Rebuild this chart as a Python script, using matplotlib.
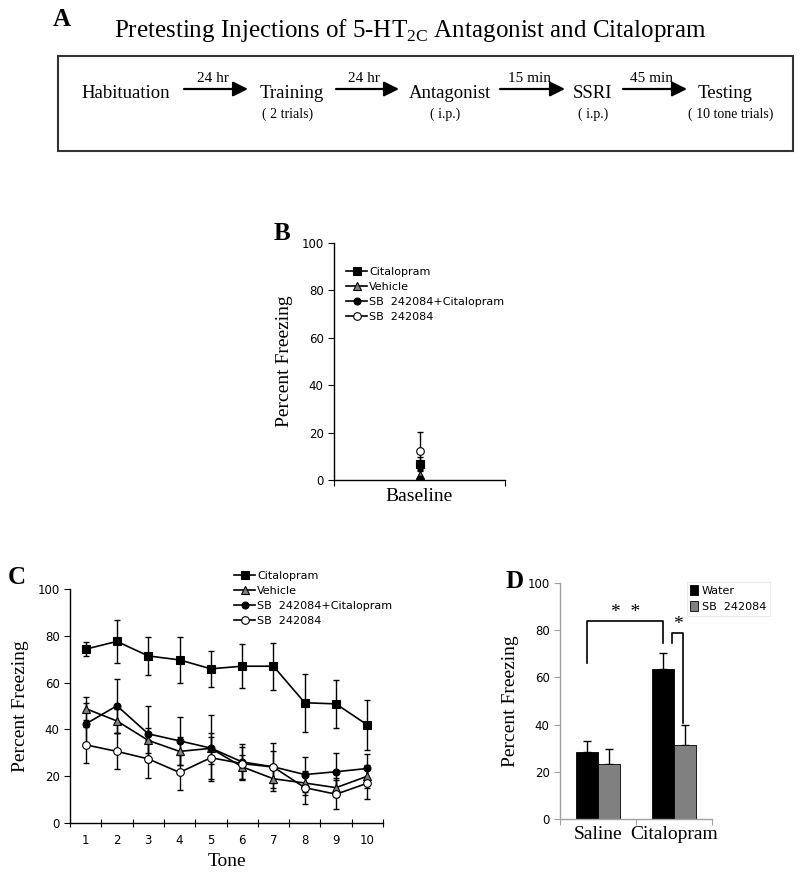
"""
Figure: pretesting injections of 5-HT2C antagonist and citalopram.
Panel A is the timeline, B baseline freezing, C freezing per tone, D mean freezing.
"""

import numpy as np
import matplotlib
matplotlib.use("Agg")
import matplotlib.pyplot as plt
from matplotlib.patches import Rectangle

plt.rcParams['font.family'] = ['DejaVu Sans']
plt.rcParams['mathtext.fontset'] = 'custom'
plt.rcParams['mathtext.rm'] = 'Liberation Serif'

SERIF = 'Liberation Serif'
W, H = 800, 876

# ---- data ----
stages = ["Habituation", "Training", "Antagonist", "SSRI", "Testing"]
stage_notes = ["", "( 2 trials)", "( i.p.)", "( i.p.)", "( 10 tone trials)"]
intervals = ["24 hr", "24 hr", "15 min", "45 min"]

groups = ["Citalopram", "Vehicle", "SB  242084+Citalopram", "SB  242084"]

baseline_mean = [6.8, 2.1, 0.3, 12.4]
baseline_err = [3.0, 2.0, 0.5, 7.7]

tones = np.arange(1, 11)
cit_mean = [74.3, 77.6, 71.4, 69.7, 65.9, 67.0, 67.0, 51.4, 50.9, 41.9]
cit_err = [3.0, 9.3, 8.3, 10.0, 7.7, 9.4, 10.0, 12.3, 10.4, 10.5]
veh_mean = [48.9, 43.6, 35.3, 30.6, 31.9, 24.0, 18.9, 17.1, 15.1, 20.0]
veh_err = [5.0, 5.0, 5.5, 6.0, 6.5, 5.0, 4.0, 5.0, 4.0, 5.0]
sbc_mean = [42.3, 50.1, 38.1, 35.1, 32.0, 26.1, 24.0, 20.7, 21.9, 23.3]
sbc_err = [9.0, 11.6, 12.0, 10.3, 14.0, 7.5, 10.4, 7.6, 7.9, 6.4]
sb_mean = [33.4, 30.6, 27.4, 21.6, 27.9, 25.4, 23.9, 15.1, 12.3, 17.0]
sb_err = [7.7, 7.7, 8.0, 7.3, 9.0, 7.0, 7.0, 6.8, 6.2, 6.6]

treatments = ["Saline", "Citalopram"]
water_mean = [28.5, 63.6]
water_err = [4.4, 6.6]
sb_bar_mean = [23.3, 31.2]
sb_bar_err = [6.2, 8.5]

GRAY = '#808080'
styles = [
    dict(marker='s', mfc='black', ms=5.5),
    dict(marker='^', mfc=GRAY, ms=5.5),
    dict(marker='o', mfc='black', ms=5),
    dict(marker='o', mfc='white', ms=5.5),
]


def px_axes(fig, x0, y0, x1, y1):
    """Add an axes from pixel box (top-left origin)."""
    return fig.add_axes([x0 / W, 1 - y1 / H, (x1 - x0) / W, (y1 - y0) / H])


def style_axis(ax, color='black'):
    for side in ['top', 'right']:
        ax.spines[side].set_visible(False)
    for side in ['left', 'bottom']:
        ax.spines[side].set_color(color)
        ax.spines[side].set_linewidth(1.0)
    ax.set_ylim(0, 100)
    ax.set_yticks(range(0, 101, 20))
    ax.tick_params(axis='y', direction='out', length=4, labelsize=8.5, color=color)
    ax.set_ylabel("Percent Freezing", fontfamily=SERIF, fontsize=14, labelpad=6)


fig = plt.figure(figsize=(8, 8.76), dpi=100)

# ---- panel A: timeline ----
ax_a = fig.add_axes([0, 1 - 160 / H, 1, 160 / H])
ax_a.set_xlim(0, W)
ax_a.set_ylim(160, 0)
ax_a.axis('off')
ax_a.text(410, 30, "Pretesting Injections of 5-HT$_{\\mathrm{2C}}$ Antagonist and Citalopram",
          fontfamily=SERIF, fontsize=18, ha='center', va='center')
ax_a.add_patch(Rectangle((58, 56), 735, 95, fill=False, lw=1.5, edgecolor='#333333'))

stage_x = [126, 292, 450, 593, 725]
note_x = [126, 288, 445, 593, 731]
arrow_x = [(184, 248), (336, 399), (500, 565), (623, 687)]
for name, note, sx, nx in zip(stages, stage_notes, stage_x, note_x):
    ax_a.text(sx, 93, name, fontfamily=SERIF, fontsize=13.5, ha='center', va='center')
    if note:
        ax_a.text(nx, 114, note, fontfamily=SERIF, fontsize=10, ha='center', va='center')
for label, (x0, x1) in zip(intervals, arrow_x):
    ax_a.annotate('', xy=(x1, 89), xytext=(x0, 89),
                  arrowprops=dict(arrowstyle='-|>,head_length=0.6,head_width=0.3',
                                  mutation_scale=15, lw=1.6, color='black',
                                  shrinkA=0, shrinkB=0))
    ax_a.text(x0 + 0.45 * (x1 - x0), 78, label, fontfamily=SERIF, fontsize=11,
              ha='center', va='center')

# ---- panel B: baseline ----
ax_b = px_axes(fig, 334, 243, 505, 480)
style_axis(ax_b)
ax_b.set_xlim(0.5, 1.5)
ax_b.set_xticks([0.5, 1.5])
ax_b.set_xticklabels([])
ax_b.set_xticks([1], minor=True)
ax_b.set_xticklabels(["Baseline"], minor=True, fontfamily=SERIF, fontsize=14)
ax_b.tick_params(axis='x', which='major', direction='out', length=4)
ax_b.tick_params(axis='x', which='minor', length=0, pad=6)
for name, m, e, st in zip(groups, baseline_mean, baseline_err, styles):
    ax_b.errorbar([1], [m], yerr=[e], fmt='none', ecolor='black', elinewidth=1,
                  capsize=2.5, zorder=2)
    ax_b.plot([1], [m], color='black', lw=1.2, mec='black', mew=0.8, label=name,
              zorder=3, **st)
ax_b.legend(loc='upper left', bbox_to_anchor=(346 / W, 1 - 267 / H),
            bbox_transform=fig.transFigure, frameon=False, fontsize=8,
            handlelength=1.9, handletextpad=0.2, labelspacing=0.45,
            borderpad=0, borderaxespad=0)

# ---- panel C: freezing per tone ----
ax_c = px_axes(fig, 70, 589, 383, 823)
style_axis(ax_c)
ax_c.set_xlim(0.5, 10.5)
ax_c.set_xticks(np.arange(0.5, 11, 1))
ax_c.set_xticklabels([])
ax_c.set_xticks(tones, minor=True)
ax_c.set_xticklabels([str(t) for t in tones], minor=True, fontsize=8.5)
ax_c.tick_params(axis='x', which='major', direction='inout', length=6)
ax_c.tick_params(axis='x', which='minor', length=0, pad=8)
ax_c.set_xlabel("Tone", fontfamily=SERIF, fontsize=14, labelpad=4)
series = [(cit_mean, cit_err), (veh_mean, veh_err), (sbc_mean, sbc_err), (sb_mean, sb_err)]
for name, (m, e), st in zip(groups, series, styles):
    ax_c.errorbar(tones, m, yerr=e, fmt='none', ecolor='black', elinewidth=1,
                  capsize=2.5, zorder=2)
    ax_c.plot(tones, m, color='black', lw=1.2, mec='black', mew=0.8, label=name,
              zorder=3, **st)
ax_c.legend(loc='upper left', bbox_to_anchor=(234 / W, 1 - 571 / H),
            bbox_transform=fig.transFigure, frameon=False, fontsize=8,
            handlelength=1.9, handletextpad=0.2, labelspacing=0.45,
            borderpad=0, borderaxespad=0)

# ---- panel D: bars ----
ax_d = px_axes(fig, 560, 583, 712, 819)
style_axis(ax_d, color='#a0a0a0')
ax_d.tick_params(axis='y', labelcolor='black')
ax_d.set_xlim(0.5, 2.5)
ax_d.set_xticks([0.5, 1.5, 2.5])
ax_d.set_xticklabels([])
ax_d.tick_params(axis='x', which='major', direction='out', length=4, color='#a0a0a0')
ax_d.set_xticks([1, 2], minor=True)
ax_d.set_xticklabels(treatments, minor=True, fontfamily=SERIF, fontsize=14)
ax_d.tick_params(axis='x', which='minor', length=0, pad=5)
pos = np.arange(1, len(treatments) + 1)
bw = 0.285
ax_d.bar(pos - bw / 2, water_mean, bw, color='black', edgecolor='black', lw=0.6,
         label="Water", zorder=2)
ax_d.bar(pos + bw / 2, sb_bar_mean, bw, color=GRAY, edgecolor='black', lw=0.6,
         label="SB  242084", zorder=2)
ax_d.errorbar(pos - bw / 2, water_mean, yerr=[[0, 0], water_err], fmt='none',
              ecolor='black', elinewidth=1, capsize=3, zorder=1)
ax_d.errorbar(pos + bw / 2, sb_bar_mean, yerr=[[0, 0], sb_bar_err], fmt='none',
              ecolor='black', elinewidth=1, capsize=3, zorder=1)

# significance brackets
xl, xr = pos[0] - bw / 2, pos[1] - bw / 2
ax_d.plot([xl, xl, xr, xr], [66, 84, 84, 74.6], color='black', lw=1.2)
ax_d.text((xl + xr) / 2, 87.5, "*  *", ha='center', va='center', fontsize=14,
          fontfamily=SERIF)
xl2, xr2 = pos[1] - 0.03, pos[1] + bw / 2 - 0.02
ax_d.plot([xl2, xl2, xr2, xr2], [74.6, 79, 79, 40.5], color='black', lw=1.2)
ax_d.text((xl2 + xr2) / 2, 82.5, "*", ha='center', va='center', fontsize=14,
          fontfamily=SERIF)

leg = ax_d.legend(loc='upper left', bbox_to_anchor=(681 / W, 1 - 576 / H),
                  bbox_transform=fig.transFigure, frameon=True, fontsize=8,
                  handlelength=0.7, handleheight=0.9, handletextpad=0.3,
                  labelspacing=0.5, borderpad=0.35, fancybox=False)
leg.get_frame().set_edgecolor('#e6e6e6')
leg.get_frame().set_linewidth(0.8)

# panel letters
for letter, (x, y) in zip("ABCD", [(62, 20), (282, 233), (17, 577), (515, 582)]):
    fig.text(x / W, 1 - y / H, letter, fontfamily=SERIF, fontweight='bold',
             fontsize=18, ha='center', va='center')

fig.savefig("out.png", dpi=100)
